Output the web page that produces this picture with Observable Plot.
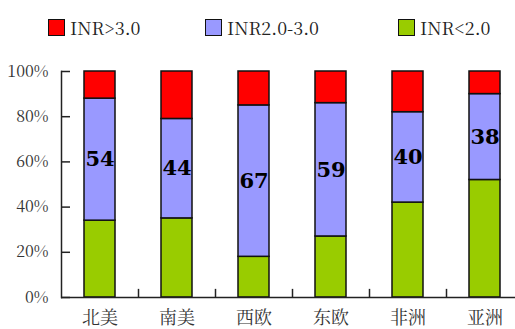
<!DOCTYPE html>
<html>
<head>
<meta charset="utf-8">
<script src="https://cdn.jsdelivr.net/npm/d3@7"></script>
<script src="https://cdn.jsdelivr.net/npm/@observablehq/plot@0.6"></script>
</head>
<body style="margin:0;padding:0;background:#fff">
<div id="wrap" style="position:relative;width:515px;height:329px;overflow:hidden">
  <div id="legend" style="position:relative;height:50px;font-family:'Noto Serif CJK SC';font-size:18px;color:#222"></div>
  <div id="chart"></div>
</div>
<script>
const categories = ["北美", "南美", "西欧", "东欧", "非洲", "亚洲"];
const seriesNames = ["INR>3.0", "INR2.0-3.0", "INR<2.0"];
const seriesColors = ["#ff0000", "#9999ff", "#99cc00"];
const high = [12, 21, 15, 14, 18, 10];   // INR>3.0
const mid = [54, 44, 67, 59, 40, 38];    // INR2.0-3.0
const low = [34, 35, 18, 27, 42, 52];    // INR<2.0
const yTicks = [0, 20, 40, 60, 80, 100];

const serif = "Noto Serif CJK SC";

// legend (HTML)
const legendLeft = [48, 205, 398];
const legend = document.getElementById("legend");
seriesNames.forEach((name, i) => {
  const it = document.createElement("div");
  it.style.cssText = `position:absolute;top:14px;left:${legendLeft[i]}px;display:flex;align-items:center;`;
  const sw = document.createElement("div");
  sw.style.cssText = `width:15px;height:15px;border:1.5px solid #111;margin-right:5px;background:${seriesColors[i]}`;
  const tx = document.createElement("span");
  tx.textContent = name;
  it.appendChild(sw); it.appendChild(tx);
  legend.appendChild(it);
});

const rows = [];
categories.forEach((c, i) => {
  rows.push({cat: c, series: "INR<2.0", value: low[i]});
  rows.push({cat: c, series: "INR2.0-3.0", value: mid[i]});
  rows.push({cat: c, series: "INR>3.0", value: high[i]});
});
const labels = categories.map((c, i) => ({cat: c, y: low[i] + mid[i] / 2, text: String(mid[i])}));

const W = 515, mLeft = 61, mRight = 0;
const xStart = 61, xEnd = 523;
const halfStep = (xEnd - xStart) / categories.length / 2;
const yTickLen = 9;

const chart = Plot.plot({
  width: W,
  height: 279,
  marginTop: 21,
  marginBottom: 32,
  marginLeft: mLeft,
  marginRight: mRight,
  style: {color: "#333", background: "transparent"},
  x: {domain: categories, range: [xStart, xEnd], paddingInner: 0.6, paddingOuter: 0.3, label: null},
  y: {domain: [0, 100], label: null},
  color: {domain: seriesNames, range: seriesColors},
  marks: [
    Plot.barY(rows, Plot.stackY({
      x: "cat", y: "value", fill: "series",
      order: ["INR<2.0", "INR2.0-3.0", "INR>3.0"],
      stroke: "#111", strokeWidth: 1.5
    })),
    Plot.text(labels, {
      x: "cat", y: "y", text: "text",
      fontFamily: "DejaVu Serif", fontWeight: "bold", fontSize: 21, fill: "#000"
    }),
    Plot.ruleX(categories.slice(0, categories.length - 1), {
      x: d => d, y1: 0, y2: 3.6, dx: halfStep, stroke: "#222", strokeWidth: 1.5
    }),
    Plot.ruleY(yTicks, {y: d => d, insetRight: W - mLeft - mRight - yTickLen, stroke: "#222", strokeWidth: 1.5}),
    Plot.axisY({ticks: yTicks, tickFormat: d => d + "%", tickSize: 0, tickPadding: 13, fontSize: 16, fontFamily: serif, fill: "#333", label: null}),
    Plot.axisX({tickSize: 0, tickPadding: 14, fontSize: 18, fontFamily: serif, fill: "#333", label: null}),
    Plot.frame({anchor: "left", stroke: "#222", strokeWidth: 1.5}),
    Plot.ruleY([0], {stroke: "#222", strokeWidth: 1.5})
  ]
});
document.getElementById("chart").appendChild(chart);
</script>
</body>
</html>
